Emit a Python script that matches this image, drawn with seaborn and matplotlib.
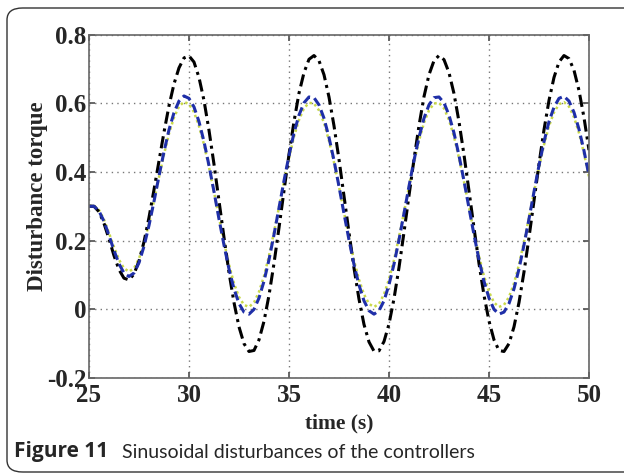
import numpy as np
import seaborn as sns
import matplotlib.pyplot as plt
from matplotlib.patches import FancyBboxPatch

# sampling times (s), every 0.25 s
time_s = np.linspace(25, 50, 101)

# values
black_torque = [
    0.300, 0.300, 0.284, 0.250, 0.205, 0.156, 0.115, 0.090,
    0.085, 0.102, 0.140, 0.196, 0.267, 0.348, 0.432, 0.516,
    0.593, 0.657, 0.704, 0.733, 0.739, 0.721, 0.676, 0.609,
    0.522, 0.423, 0.316, 0.209, 0.107, 0.019, -0.052, -0.101,
    -0.124, -0.121, -0.090, -0.036, 0.040, 0.133, 0.237, 0.345,
    0.451, 0.547, 0.630, 0.690, 0.729, 0.740, 0.725, 0.684,
    0.619, 0.535, 0.437, 0.330, 0.223, 0.120, 0.029, -0.045,
    -0.096, -0.123, -0.122, -0.095, -0.044, 0.030, 0.121, 0.224,
    0.331, 0.437, 0.535, 0.620, 0.684, 0.725, 0.740, 0.728,
    0.690, 0.629, 0.547, 0.450, 0.345, 0.237, 0.133, 0.040,
    -0.035, -0.090, -0.121, -0.124, -0.101, -0.052, 0.019, 0.108,
    0.209, 0.316, 0.423, 0.523, 0.609, 0.676, 0.721, 0.740,
    0.731, 0.697, 0.638, 0.559, 0.464]

blue_torque = [
    0.300, 0.300, 0.286, 0.256, 0.215, 0.171, 0.132, 0.105,
    0.095, 0.105, 0.135, 0.183, 0.244, 0.314, 0.388, 0.459,
    0.523, 0.573, 0.607, 0.622, 0.615, 0.590, 0.547, 0.489,
    0.419, 0.343, 0.263, 0.187, 0.117, 0.059, 0.016, -0.009,
    -0.015, -0.001, 0.032, 0.081, 0.144, 0.217, 0.295, 0.374,
    0.448, 0.514, 0.566, 0.602, 0.619, 0.617, 0.596, 0.557,
    0.501, 0.434, 0.358, 0.279, 0.202, 0.130, 0.070, 0.024,
    -0.005, -0.015, -0.005, 0.024, 0.071, 0.131, 0.202, 0.279,
    0.358, 0.434, 0.501, 0.557, 0.596, 0.617, 0.619, 0.602,
    0.566, 0.514, 0.448, 0.374, 0.295, 0.217, 0.144, 0.081,
    0.032, -0.001, -0.015, -0.009, 0.016, 0.059, 0.117, 0.187,
    0.263, 0.342, 0.419, 0.488, 0.547, 0.589, 0.615, 0.621,
    0.607, 0.574, 0.525, 0.462, 0.389]

green_torque = [
    0.302, 0.302, 0.289, 0.261, 0.222, 0.181, 0.144, 0.119,
    0.109, 0.119, 0.147, 0.192, 0.249, 0.315, 0.385, 0.451,
    0.512, 0.559, 0.591, 0.605, 0.598, 0.575, 0.534, 0.480,
    0.414, 0.342, 0.267, 0.196, 0.130, 0.075, 0.035, 0.012,
    0.006, 0.019, 0.050, 0.096, 0.155, 0.224, 0.297, 0.372,
    0.441, 0.503, 0.552, 0.586, 0.602, 0.600, 0.580, 0.544,
    0.491, 0.428, 0.357, 0.282, 0.210, 0.142, 0.086, 0.043,
    0.015, 0.006, 0.015, 0.043, 0.087, 0.143, 0.210, 0.282,
    0.357, 0.428, 0.491, 0.544, 0.580, 0.600, 0.602, 0.586,
    0.552, 0.503, 0.441, 0.372, 0.297, 0.224, 0.155, 0.096,
    0.050, 0.019, 0.006, 0.012, 0.035, 0.075, 0.130, 0.196,
    0.267, 0.341, 0.414, 0.479, 0.534, 0.574, 0.598, 0.604,
    0.591, 0.560, 0.514, 0.454, 0.386]

xticks = [25, 30, 35, 40, 45, 50]
yticks = [-0.2, 0, 0.2, 0.4, 0.6, 0.8]
ytick_labels = ["-0.2", "0", "0.2", "0.4", "0.6", "0.8"]

sns.set_theme(style="white")
plt.rcParams['font.family'] = ['Liberation Serif', 'DejaVu Serif']

fig = plt.figure(figsize=(6.24, 4.76), dpi=100)
ax = fig.add_axes([0.1426, 0.2069, 0.8013, 0.7196])

sns.lineplot(x=time_s, y=green_torque, ax=ax, color='#c9d94a', lw=1.8,
             linestyle=(0, (1, 1.2)))
sns.lineplot(x=time_s, y=black_torque, ax=ax, color='black', lw=2.2,
             linestyle=(0, (4, 1.6, 1, 1.6)))
sns.lineplot(x=time_s, y=blue_torque, ax=ax, color='#1f2fa8', lw=2.2,
             linestyle=(0, (3, 1.5)))

ax.set_xlim(25, 50)
ax.set_ylim(-0.2, 0.8)
ax.set_xticks(xticks)
ax.set_yticks(yticks)
ax.set_yticklabels(ytick_labels)
ax.grid(True, linestyle=(0, (1, 3)), color='#777777', lw=1.0)
ax.tick_params(direction='in', length=4, color='#555555', labelsize=18,
               pad=2, top=True, right=True, bottom=True, left=True)
ax.tick_params(axis='x', pad=5)
for lab in ax.get_xticklabels() + ax.get_yticklabels():
    lab.set_fontweight('bold')
for sp in ax.spines.values():
    sp.set_color('#666666')
    sp.set_linewidth(1.2)

ax.set_xlabel('time (s)', fontsize=15.5, fontweight='bold', labelpad=4)
ax.set_ylabel('Disturbance torque', fontsize=16.5, fontweight='bold')
ax.yaxis.set_label_coords(-0.082, 0.53)

# caption and rounded frame
fig.text(14 / 624, 1 - 452 / 476, 'Figure 11', family='Open Sans',
         fontweight='bold', fontsize=15, va='center', ha='left')
fig.text(122 / 624, 1 - 452 / 476, 'Sinusoidal disturbances of the controllers',
         family='Lato', fontsize=14, va='center', ha='left')
box = FancyBboxPatch((7 / 624, 4 / 476), 1.2, 464 / 476,
                     boxstyle='round,pad=0,rounding_size=0.025',
                     transform=fig.transFigure, fill=False,
                     edgecolor='#333333', lw=1.0)
fig.patches.append(box)

fig.savefig('out.png', dpi=100)
